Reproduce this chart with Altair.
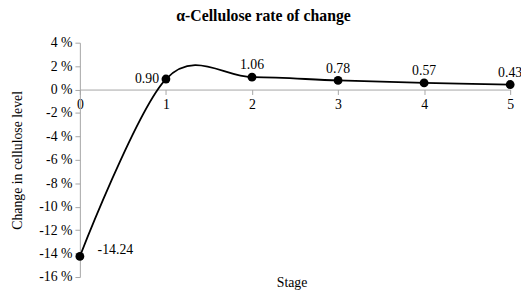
import altair as alt
import pandas as pd

stages = [0, 1, 2, 3, 4, 5]
values = [-14.24, 0.90, 1.06, 0.78, 0.57, 0.43]
labels = ["-14.24", "0.90", "1.06", "0.78", "0.57", "0.43"]
y_ticks = [-16, -14, -12, -10, -8, -6, -4, -2, 0, 2, 4]
x_ticks = [0, 1, 2, 3, 4, 5]

df = pd.DataFrame({"stage": stages, "value": values, "label": labels})

FONT = "Liberation Serif"
AX = "#a6a6a6"

x = alt.X("stage:Q", scale=alt.Scale(domain=[0, 5], nice=False, zero=False),
          axis=alt.Axis(values=x_ticks, format="d", offset=-190.4, title="Stage",
                        titleY=200, titleX=215, titleBaseline="alphabetic", titleFontWeight="normal",
                        titleFont=FONT, titleFontSize=14, titleColor="black",
                        labelFont=FONT, labelFontSize=14, labelColor="black", labelPadding=3,
                        domainColor=AX, tickColor=AX, tickSize=5, grid=False, labelFlush=False))
y = alt.Y("value:Q", scale=alt.Scale(domain=[-16, 4], nice=False),
          axis=alt.Axis(values=y_ticks, labelExpr="datum.value + ' %'", title="Change in cellulose level",
                        titleFont=FONT, titleFontSize=14, titleFontWeight="normal", titleColor="black",
                        titleX=-56, labelFont=FONT, labelFontSize=14, labelColor="black",
                        labelPadding=3, domainColor=AX, tickColor=AX, tickSize=5, grid=False))

base = alt.Chart(df)
line = base.mark_line(interpolate="cardinal", color="black", strokeWidth=1.8).encode(x=x, y=y)
pts = base.mark_point(filled=True, color="black", size=80, opacity=1).encode(x=x, y=y)

txt_kw = dict(font=FONT, fontSize=14, color="black")
lab_above = base.transform_filter("datum.stage >= 2").mark_text(
    baseline="middle", align="center", dy=-12, **txt_kw).encode(x=x, y=y, text="label:N")
lab_left = base.transform_filter("datum.stage == 1").mark_text(
    baseline="middle", align="right", dx=-7, **txt_kw).encode(x=x, y=y, text="label:N")
lab_right = base.transform_filter("datum.stage == 0").mark_text(
    baseline="middle", align="left", dx=18, dy=-6, **txt_kw).encode(x=x, y=y, text="label:N")

chart = alt.layer(line, pts, lab_above, lab_left, lab_right).properties(
    width=437, height=238,
    title=alt.TitleParams("α-Cellulose rate of change", font=FONT, fontSize=16, fontWeight="bold",
                          color="black", anchor="middle", frame="group", dx=-32, offset=12),
    autosize=alt.AutoSizeParams(type="none"),
    padding={"left": 73, "top": 33, "right": 11, "bottom": 15},
).configure_view(stroke=None)

chart.save("out.html", embed_options={"renderer": "svg", "actions": False})
